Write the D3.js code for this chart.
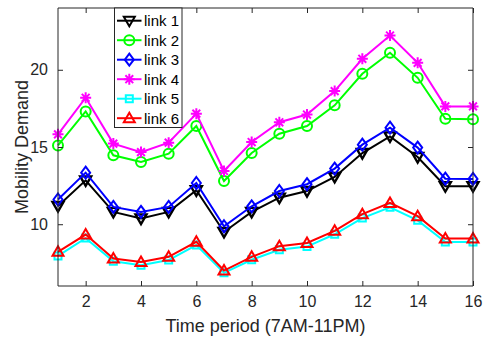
<!DOCTYPE html>
<html>
<head>
<meta charset="utf-8">
<script src="https://cdn.jsdelivr.net/npm/d3@7"></script>
<style>
  body { margin: 0; background: #fff; }
  svg { display: block; font-family: "Liberation Sans", Arial, Helvetica, sans-serif; }
</style>
</head>
<body>
<svg id="chart" width="484" height="339"></svg>
<script>
const periods = [1,2,3,4,5,6,7,8,9,10,11,12,13,14,15,16];
const link1 = [11.18,12.84,10.80,10.37,10.80,12.20,9.50,10.80,11.72,12.15,13.06,14.61,15.69,14.35,12.46,12.46];
const link2 = [15.10,17.30,14.46,14.03,14.57,16.36,12.80,14.61,15.86,16.36,17.70,19.74,21.10,19.48,16.83,16.80];
const link3 = [11.60,13.34,11.12,10.80,11.12,12.67,9.87,11.16,12.15,12.59,13.60,15.15,16.25,14.96,12.95,12.93];
const link4 = [15.82,18.19,15.22,14.67,15.28,17.16,13.45,15.32,16.60,17.10,18.62,20.71,22.22,20.45,17.63,17.63];
const link5 = [7.95,9.10,7.60,7.35,7.68,8.65,6.85,7.70,8.35,8.55,9.35,10.40,11.10,10.25,8.85,8.85];
const link6 = [8.21,9.33,7.78,7.56,7.89,8.86,7.00,7.89,8.58,8.79,9.57,10.65,11.38,10.52,9.08,9.08];
const seriesNames = ["link 1","link 2","link 3","link 4","link 5","link 6"];
const seriesValues = [link1, link2, link3, link4, link5, link6];
const seriesColors = ["#000000","#00ff00","#0000ff","#ff00ff","#00ffff","#ff0000"];
const seriesMarkers = ["triDown","circle","diamond","asterisk","square","triUp"];
const xTicks = [2,4,6,8,10,12,14,16];
const yTicks = [10,15,20];
const xLabel = "Time period (7AM-11PM)";
const yLabel = "Mobility Demand";

const svg = d3.select("#chart");
const m = {left: 58, right: 473, top: 8, bottom: 286};
const x = d3.scaleLinear().domain([1,16]).range([m.left, m.right]);
const y = d3.scaleLinear().domain([6,24]).range([m.bottom, m.top]);
const axisColor = "#262626";

function markerPath(type) {
  switch (type) {
    case "triDown": return "M-5.5,-4L5.5,-4L0,5.5Z";
    case "triUp": return "M-5.5,4L5.5,4L0,-5.5Z";
    case "circle": return "M5,0A5,5 0 1,1 -5,0A5,5 0 1,1 5,0Z";
    case "diamond": return "M0,-6L4.5,0L0,6L-4.5,0Z";
    case "square": return "M-3.5,-3.5L3.5,-3.5L3.5,3.5L-3.5,3.5Z";
    case "asterisk": return "M0,-5.5L0,5.5M-5.5,0L5.5,0M-3.9,-3.9L3.9,3.9M-3.9,3.9L3.9,-3.9";
  }
}

const line = d3.line().x((d,i) => x(periods[i])).y(d => y(d));

// series
seriesValues.forEach((vals, si) => {
  const g = svg.append("g");
  g.append("path").datum(vals)
    .attr("d", line)
    .attr("fill", "none")
    .attr("stroke", seriesColors[si])
    .attr("stroke-width", 2)
    .attr("stroke-linejoin", "miter");
  g.selectAll("path.mk").data(vals).enter().append("path")
    .attr("class", "mk")
    .attr("transform", (d,i) => `translate(${x(periods[i])},${y(d)})`)
    .attr("d", markerPath(seriesMarkers[si]))
    .attr("fill", "none")
    .attr("stroke", seriesColors[si])
    .attr("stroke-width", si === 0 ? 2.4 : 2);
});

// axes with d3
const bottomAxis = d3.axisBottom(x).tickValues(xTicks).tickSize(-5).tickPadding(10);
const topAxis = d3.axisTop(x).tickValues(xTicks).tickSize(-5).tickFormat("");
const leftAxis = d3.axisLeft(y).tickValues(yTicks).tickSize(-5).tickPadding(10);
const rightAxis = d3.axisRight(y).tickValues(yTicks).tickSize(-5).tickFormat("");

function styleAxis(g) {
  g.selectAll(".domain").attr("stroke", axisColor).attr("stroke-width", 1);
  g.selectAll(".tick line").attr("stroke", axisColor);
  g.selectAll(".tick text").attr("fill", axisColor).style("font-size", "16px");
}
const ax1 = svg.append("g").attr("transform", `translate(0,${m.bottom})`).call(bottomAxis);
ax1.selectAll(".domain").attr("d", `M${m.left},0H${m.right}`);
styleAxis(ax1);
const ax2 = svg.append("g").attr("transform", `translate(0,${m.top})`).call(topAxis);
ax2.selectAll(".domain").attr("d", `M${m.left},0H${m.right}`);
styleAxis(ax2);
const ax3 = svg.append("g").attr("transform", `translate(${m.left},0)`).call(leftAxis);
ax3.selectAll(".domain").attr("d", `M0,${m.top}V${m.bottom}`);
styleAxis(ax3);
const ax4 = svg.append("g").attr("transform", `translate(${m.right},0)`).call(rightAxis);
ax4.selectAll(".domain").attr("d", `M0,${m.top}V${m.bottom}`);
styleAxis(ax4);

// labels
svg.append("text")
  .attr("x", (m.left + m.right)/2).attr("y", 332)
  .attr("text-anchor", "middle")
  .attr("fill", axisColor)
  .style("font-size", "18px")
  .text(xLabel);
svg.append("text")
  .attr("transform", `translate(28,${(m.top+m.bottom)/2}) rotate(-90)`)
  .attr("text-anchor", "middle")
  .attr("fill", axisColor)
  .style("font-size", "18px")
  .text(yLabel);

// legend
const lg = svg.append("g");
const lgX = 114.5, lgY = 8, lgW = 67.5, lgH = 119.5;
lg.append("rect").attr("x", lgX).attr("y", lgY).attr("width", lgW).attr("height", lgH)
  .attr("fill", "#fff").attr("stroke", axisColor).attr("stroke-width", 1);
seriesNames.forEach((name, si) => {
  const yy = 20.7 + si * 19.5;
  lg.append("line").attr("x1", 117).attr("x2", 141.5).attr("y1", yy).attr("y2", yy)
    .attr("stroke", seriesColors[si]).attr("stroke-width", 2);
  lg.append("path").attr("transform", `translate(129.3,${yy})`)
    .attr("d", markerPath(seriesMarkers[si]))
    .attr("fill", "none").attr("stroke", seriesColors[si]).attr("stroke-width", 2);
  lg.append("text").attr("x", 144).attr("y", yy + 5.5)
    .attr("fill", "#000").style("font-size", "15px").text(name);
});
</script>
</body>
</html>
